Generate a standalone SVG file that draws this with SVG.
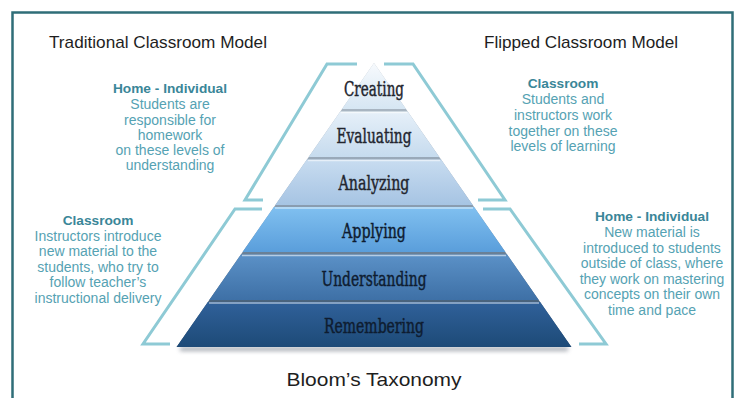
<svg xmlns="http://www.w3.org/2000/svg" width="739" height="398" viewBox="0 0 739 398">
<defs>
<style>
.title{font-family:"Liberation Sans",Arial,sans-serif;font-size:17px;fill:#1e1e1e}
.head{font-family:"Liberation Sans",Arial,sans-serif;font-size:13.7px;font-weight:bold;fill:#3a8698;text-anchor:middle}
.body{font-family:"Liberation Sans",Arial,sans-serif;font-size:14px;fill:#55a2b3;text-anchor:middle}
.lvl{font-family:"DejaVu Serif","Liberation Serif",serif;font-size:19.5px;text-anchor:middle;stroke-width:0.45px}
.up{fill:#22252e;stroke:#22252e}
.dn{fill:#0e1c30;stroke:#0e1c30}
.br{fill:none;stroke:#8ecad5;stroke-width:3;stroke-linejoin:miter}
.hl{fill:none;stroke:#ffffff;stroke-opacity:0.55;stroke-width:1.6}
</style>
<linearGradient id="gSil" x1="0" y1="0" x2="0" y2="1">
<stop offset="0" stop-color="#b7c1ca"/><stop offset="0.5" stop-color="#8a9db0"/><stop offset="1" stop-color="#2a4764"/>
</linearGradient>
<linearGradient id="g1" x1="0" y1="0" x2="0" y2="1"><stop offset="0" stop-color="#f7fafd"/><stop offset="1" stop-color="#d6e6f3"/></linearGradient>
<linearGradient id="g2" x1="0" y1="0" x2="0" y2="1"><stop offset="0" stop-color="#e6f0f9"/><stop offset="1" stop-color="#c6dbee"/></linearGradient>
<linearGradient id="g3" x1="0" y1="0" x2="0" y2="1"><stop offset="0" stop-color="#c8dcf0"/><stop offset="1" stop-color="#a6c4e3"/></linearGradient>
<linearGradient id="g4" x1="0" y1="0" x2="0" y2="1"><stop offset="0" stop-color="#80c0f0"/><stop offset="1" stop-color="#5a9edb"/></linearGradient>
<linearGradient id="g5" x1="0" y1="0" x2="0" y2="1"><stop offset="0" stop-color="#5b91c7"/><stop offset="1" stop-color="#3e70a6"/></linearGradient>
<linearGradient id="g6" x1="0" y1="0" x2="0" y2="1"><stop offset="0" stop-color="#30619a"/><stop offset="1" stop-color="#1d4a77"/></linearGradient>
<filter id="sh" x="-10%" y="-200%" width="120%" height="500%"><feGaussianBlur stdDeviation="2"/></filter>
</defs>
<rect width="739" height="398" fill="#ffffff"/>
<rect id="frame" x="12.5" y="12.5" width="720" height="410" fill="none" stroke="#2f6e78" stroke-width="2.5"/>

<g id="title-traditional"><text class="title" x="49" y="48" textLength="218" lengthAdjust="spacingAndGlyphs">Traditional Classroom Model</text></g>
<g id="title-flipped"><text class="title" x="484" y="48" textLength="194" lengthAdjust="spacingAndGlyphs">Flipped Classroom Model</text></g>

<g id="connectors">
<polyline class="br" points="357,64 327,64 245,200 263,200"/>
<polyline class="br" points="384,64 413,64 505,200 478,200"/>
<polyline class="br" points="262,209 235,209 143,344 170,344"/>
<polyline class="br" points="483,209 510,209 606,344 579,344"/>
</g>

<g id="pyramid">
<rect x="180" y="347" width="388" height="4" fill="#6b7280" opacity="0.6" filter="url(#sh)"/>
<polygon points="374,63 571.4,347 176.6,347" fill="url(#gSil)"/>
<g id="level-creating">
<polygon points="374,63 406,109 342,109" fill="url(#g1)"/>
<text class="lvl up" x="374" y="96" textLength="60" lengthAdjust="spacingAndGlyphs">Creating</text>
</g>
<g id="level-evaluating">
<polygon points="340.3,111.5 407.7,111.5 439.3,157 308.7,157" fill="url(#g2)"/>
<line class="hl" x1="341" y1="112.5" x2="407" y2="112.5"/>
<text class="lvl up" x="374" y="143" textLength="75" lengthAdjust="spacingAndGlyphs">Evaluating</text>
</g>
<g id="level-analyzing">
<polygon points="306.9,159.5 441.1,159.5 472.7,205 275.3,205" fill="url(#g3)"/>
<line class="hl" x1="308" y1="160.5" x2="440" y2="160.5"/>
<text class="lvl up" x="374" y="190" textLength="71" lengthAdjust="spacingAndGlyphs">Analyzing</text>
</g>
<g id="level-applying">
<polygon points="273.9,207 474.1,207 505.4,252 242.6,252" fill="url(#g4)"/>
<line class="hl" x1="275" y1="208" x2="473" y2="208"/>
<text class="lvl dn" x="374" y="238" textLength="64" lengthAdjust="spacingAndGlyphs">Applying</text>
</g>
<g id="level-understanding">
<polygon points="240.9,254.5 507.1,254.5 538.7,300 209.3,300" fill="url(#g5)"/>
<line class="hl" x1="242" y1="255.5" x2="506" y2="255.5" stroke-opacity="0.35"/>
<text class="lvl dn" x="374" y="286" textLength="105" lengthAdjust="spacingAndGlyphs">Understanding</text>
</g>
<g id="level-remembering">
<polygon points="207.9,302 540.1,302 571.4,347 176.6,347" fill="url(#g6)"/>
<line class="hl" x1="209" y1="303" x2="539" y2="303" stroke-opacity="0.3"/>
<text class="lvl dn" x="374" y="333" textLength="100" lengthAdjust="spacingAndGlyphs">Remembering</text>
</g>
</g>

<g id="trad-home">
<text class="head" x="170" y="93">Home - Individual</text>
<text class="body" x="170" y="109">Students are</text>
<text class="body" x="170" y="125">responsible for</text>
<text class="body" x="170" y="140">homework</text>
<text class="body" x="170" y="155">on these levels of</text>
<text class="body" x="170" y="170">understanding</text>
</g>

<g id="flip-classroom">
<text class="head" x="563" y="88">Classroom</text>
<text class="body" x="563" y="104">Students and</text>
<text class="body" x="563" y="120">instructors work</text>
<text class="body" x="563" y="136">together on these</text>
<text class="body" x="563" y="151">levels of learning</text>
</g>

<g id="trad-classroom">
<text class="head" x="98" y="225">Classroom</text>
<text class="body" x="98" y="241">Instructors introduce</text>
<text class="body" x="98" y="256">new material to the</text>
<text class="body" x="98" y="272">students, who try to</text>
<text class="body" x="98" y="287">follow teacher’s</text>
<text class="body" x="98" y="303">instructional delivery</text>
</g>

<g id="flip-home">
<text class="head" x="652" y="221">Home - Individual</text>
<text class="body" x="652" y="237">New material is</text>
<text class="body" x="652" y="253">introduced to students</text>
<text class="body" x="652" y="268">outside of class, where</text>
<text class="body" x="652" y="284">they work on mastering</text>
<text class="body" x="652" y="299">concepts on their own</text>
<text class="body" x="652" y="315">time and pace</text>
</g>

<g id="caption"><text x="374" y="386" text-anchor="middle" font-family="'Liberation Sans',Arial,sans-serif" font-size="19" fill="#1e1e1e" textLength="175" lengthAdjust="spacingAndGlyphs">Bloom’s Taxonomy</text></g>
</svg>
